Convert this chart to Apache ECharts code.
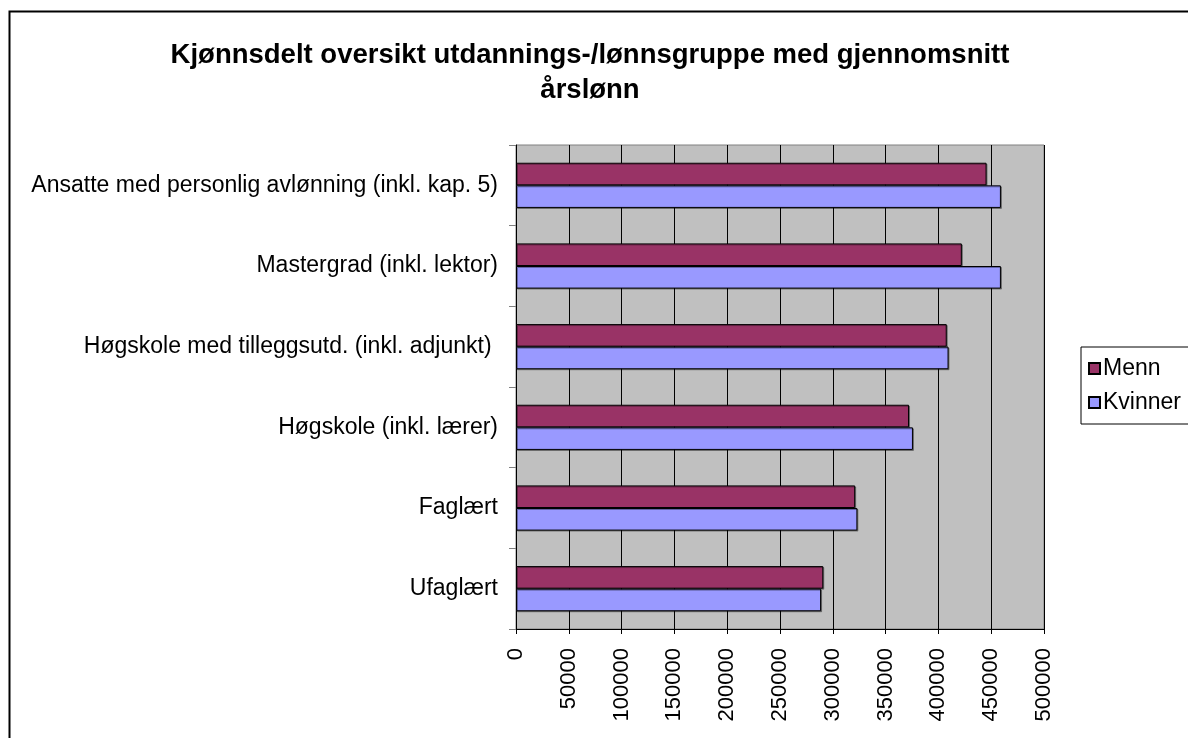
<!DOCTYPE html>
<html>
<head>
<meta charset="utf-8">
<script src="https://cdn.jsdelivr.net/npm/echarts@6/dist/echarts.min.js"></script>
<style>
html,body{margin:0;padding:0;background:#fff;}
#chart{width:1188px;height:738px;}
</style>
</head>
<body>
<div id="chart"></div>
<script>
const titleLines = ['Kjønnsdelt oversikt utdannings-/lønnsgruppe med gjennomsnitt', 'årslønn'];
const categories = [
  'Ufaglært',
  'Faglært',
  'Høgskole (inkl. lærer)',
  'Høgskole med tilleggsutd. (inkl. adjunkt) ',
  'Mastergrad (inkl. lektor)',
  'Ansatte med personlig avlønning (inkl. kap. 5)'
];
const seriesNames = ['Menn', 'Kvinner'];
const menn = [291000, 321200, 372200, 407900, 422200, 445600];
const kvinner = [288900, 323300, 375900, 409600, 459200, 459200];
const xMin = 0, xMax = 500000, xStep = 50000;

const FONT = "'Liberation Sans', Arial, sans-serif";
const chart = echarts.init(document.getElementById('chart'), null, {renderer: 'canvas'});

function barSeries(name, data, color) {
  return {
    name: name,
    type: 'bar',
    data: data,
    barGap: '0%',
    barCategoryGap: '44%',
    itemStyle: {
      color: color,
      borderColor: '#000',
      borderWidth: 1,
      shadowColor: 'rgba(0,0,0,0.35)',
      shadowOffsetX: 1,
      shadowOffsetY: 1,
      shadowBlur: 0
    },
    emphasis: {disabled: true},
    animation: false
  };
}

chart.setOption({
  backgroundColor: '#fff',
  animation: false,
  textStyle: {fontFamily: FONT},
  graphic: [
    {type: 'rect', left: 7, top: 9, shape: {width: 1300, height: 1000}, style: {fill: 'none', stroke: '#000', lineWidth: 2}, z: 0, silent: true},
    {type: 'text', x: 590, y: 69, style: {text: titleLines[0], font: 'bold 27.5px ' + FONT, fill: '#000', textAlign: 'center', textVerticalAlign: 'bottom'}, z: 10},
    {type: 'text', x: 590, y: 104, style: {text: titleLines[1], font: 'bold 27.5px ' + FONT, fill: '#000', textAlign: 'center', textVerticalAlign: 'bottom'}, z: 10}
  ],
  legend: {
    data: seriesNames,
    orient: 'vertical',
    left: 1081,
    top: 347,
    width: 104,
    padding: [10, 8, 10, 7],
    itemGap: 11,
    itemWidth: 11,
    itemHeight: 11,
    icon: 'rect',
    borderColor: '#000',
    borderWidth: 1,
    textStyle: {fontSize: 23, color: '#000', fontFamily: FONT, padding: [0, 0, 0, -2]},
    selectedMode: false
  },
  grid: {
    left: 516, right: 144, top: 145, bottom: 109,
    show: true,
    backgroundColor: '#C0C0C0',
    borderColor: '#808080',
    borderWidth: 1
  },
  xAxis: {
    type: 'value',
    min: xMin, max: xMax, interval: xStep,
    axisLine: {show: true, lineStyle: {color: '#000', width: 1}},
    axisTick: {show: true, length: 5, lineStyle: {color: '#000'}},
    splitLine: {show: true, lineStyle: {color: '#000', width: 1}},
    axisLabel: {rotate: 90, fontSize: 22, color: '#000', margin: 19, fontFamily: FONT, formatter: function (v) { return String(v); }}
  },
  yAxis: {
    type: 'category',
    data: categories,
    axisLine: {show: true, lineStyle: {color: '#000', width: 1}},
    axisTick: {show: true, length: 7, lineStyle: {color: '#808080'}},
    splitLine: {show: false},
    axisLabel: {fontSize: 23, color: '#000', margin: 18, fontFamily: FONT}
  },
  series: [
    barSeries(seriesNames[0], menn, '#993366'),
    barSeries(seriesNames[1], kvinner, '#9999FF')
  ]
});
</script>
</body>
</html>
